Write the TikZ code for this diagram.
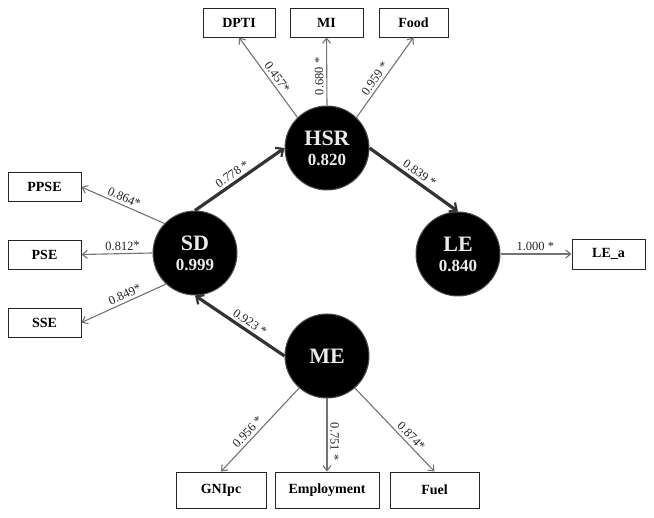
\documentclass[tikz,border=0pt]{standalone}
\usepackage{fontspec}
\setmainfont{Liberation Serif}
\usetikzlibrary{arrows.meta}
\newcommand\latname[1]{{\fontsize{22}{22}\selectfont\bfseries #1}}
\newcommand\latval[1]{{\fontsize{17}{17}\selectfont\bfseries #1}}
\begin{document}
\begin{tikzpicture}[x=1pt,y=-1pt,
  lat/.style={circle,fill=black,draw=black!70,line width=1pt,minimum size=84pt,
    inner sep=0pt,text=white!92!black,align=center,font=\fontsize{17}{20}\selectfont},
  ind/.style={draw=black!85,line width=0.9pt,fill=white,inner sep=0pt,
    minimum height=29pt,font=\fontsize{14}{14}\selectfont\bfseries},
  indb/.style={ind,minimum height=36pt},
  thinarr/.style={draw=black!55,line width=1.1pt,-{Straight Barb[length=5pt,width=8pt,line width=1.1pt]}},
  thickarr/.style={draw=black!80,line width=3.2pt,-{Straight Barb[length=6pt,width=11pt,line width=2.2pt]}},
  lbl/.style={sloped,above,inner sep=2.8pt,text=black!85,font=\fontsize{12.5}{12.5}\selectfont}]
\useasboundingbox (0,0) rectangle (654,518);
\fill[white] (0,0) rectangle (654,518);

% latent variables
\node[lat] (HSR) at (327,148) {\latname{HSR}\\\latval{0.820}};
\node[lat] (SD) at (195,253) {\latname{SD}\\\latval{0.999}};
\node[lat] (LE) at (458,254) {\latname{LE}\\\latval{0.840}};
\node[lat] (ME) at (327,356) {\latname{ME}};

% indicators
\node[ind,minimum width=72pt] (DPTI) at (239,22.5) {DPTI};
\node[ind,minimum width=73pt] (MI) at (326.5,22.5) {MI};
\node[ind,minimum width=69pt] (Food) at (413.5,22.5) {Food};
\node[ind,minimum width=73pt] (PPSE) at (44.5,187) {PPSE};
\node[ind,minimum width=73pt] (PSE) at (44.5,254.5) {PSE};
\node[ind,minimum width=73pt] (SSE) at (44.5,322.5) {SSE};
\node[ind,minimum width=73pt,minimum height=30pt] (LEa) at (608.5,254) {LE\_a};
\node[indb,minimum width=90pt] (GNI) at (221,490) {GNIpc};
\node[indb,minimum width=104pt] (Emp) at (327,490) {Employment};
\node[indb,minimum width=89pt] (Fuel) at (434.5,490) {Fuel};

% structural paths
\draw[thickarr] (SD.north) -- node[lbl,pos=0.47]{0.778 *} (HSR.west);
\draw[thickarr] (HSR.east) -- node[lbl,pos=0.51]{0.839 *} (LE.north);
\draw[thickarr] (ME.west) -- node[lbl,pos=0.44]{0.923 *} (SD.south);

% measurement paths
\draw[thinarr] (HSR.134) -- node[lbl,pos=0.45]{0.457*} (DPTI.south);
\draw[thinarr] (HSR.north) -- node[lbl,allow upside down,pos=0.43]{0.680 *} (MI.south);
\draw[thinarr] (HSR.46) -- node[lbl,pos=0.43]{0.959 *} (Food.south);
\draw[thinarr] (SD.136) -- node[lbl,pos=0.52]{0.864*} (PPSE.east);
\draw[thinarr] (SD.west) -- node[lbl,pos=0.42]{0.812*} (PSE.east);
\draw[thinarr] (SD.-133) -- node[lbl,pos=0.45]{0.849*} (SSE.east);
\draw[thinarr] (LE.east) -- node[lbl,pos=0.49]{1.000 *} (LEa.west);
\draw[thinarr] (ME.-131) -- node[lbl,pos=0.59]{0.956 *} (GNI.north);
\draw[thinarr] (ME.south) -- node[lbl,allow upside down,pos=0.59]{0.751 *} (Emp.north);
\draw[thinarr] (ME.-49) -- node[lbl,pos=0.64]{0.874*} (Fuel.north);
\end{tikzpicture}
\end{document}
